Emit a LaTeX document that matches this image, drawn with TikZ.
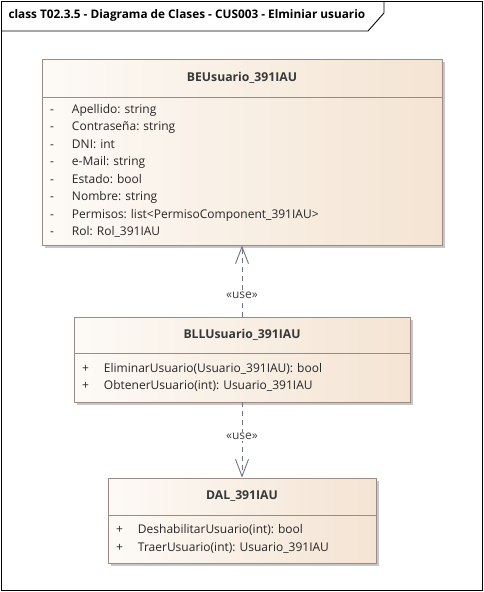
\documentclass[tikz,border=0pt]{standalone}
\usepackage{fontspec}
\setmainfont{Open Sans}
\usetikzlibrary{arrows.meta,shadows}
\definecolor{clsA}{HTML}{FDFAF6}
\definecolor{clsB}{HTML}{F4E4D3}
\definecolor{clsline}{HTML}{9C8A86}
\definecolor{depc}{HTML}{6F7486}
\newcommand\pv[1]{\makebox[22pt][l]{-}#1}
\newcommand\pb[1]{\makebox[22pt][l]{+}#1}
\frenchspacing

\begin{document}
\begin{tikzpicture}[x=1pt,y=-1pt,font=\fontsize{12}{17.5}\selectfont,
 cl/.style={draw=clsline,line width=0.9pt,left color=clsA,right color=clsB,inner sep=0pt,
  drop shadow={shadow xshift=3pt,shadow yshift=-3pt,fill=black!22,opacity=1}},
 hd/.style={cl,font=\fontsize{12.2}{14}\selectfont\bfseries,text=black!78},
 bd/.style={cl,align=left,inner xsep=8pt,text=black!85},
 ar/.style={dash pattern=on 5pt off 4pt,draw=depc,line width=0.9pt,
  -{Straight Barb[length=17pt,width=13pt,line width=0.9pt]}},
 lb/.style={fill=white,inner sep=1pt,text=black!75}]
\useasboundingbox (0,0) rectangle (484,592);
\draw[line width=0.9pt] (1,1) rectangle (482,590);
\draw[line width=0.9pt] (1,31) -- (368,31) -- (384,13) -- (384,1);
\node[anchor=west,font=\fontsize{11.8}{14}\selectfont\bfseries] (ttl) at (5,15)
 {class T02.3.5 - Diagrama de Clases - CUS003 - Elminiar usuario};

\node[hd,minimum width=400pt,minimum height=38pt] (beh) at (242,78) {BEUsuario\_391IAU};
\node[bd,text width=384pt,minimum height=148pt] (beb) at (242,171)
 {\pv{Apellido: string}\\ \pv{Contraseña: string}\\ \pv{DNI: int}\\ \pv{e-Mail: string}\\
  \pv{Estado: bool}\\ \pv{Nombre: string}\\ \pv{Permisos: list<PermisoComponent\_391IAU>}\\
  \pv{Rol: Rol\_391IAU}};

\node[hd,minimum width=336pt,minimum height=36pt] (bllh) at (242,335) {BLLUsuario\_391IAU};
\node[bd,text width=320pt,minimum height=49pt] (bllb) at (242,377.5)
 {\pb{EliminarUsuario(Usuario\_391IAU): bool}\\ \pb{ObtenerUsuario(int): Usuario\_391IAU}};

\node[hd,minimum width=268pt,minimum height=37pt] (dalh) at (242,496.5) {DAL\_391IAU};
\node[bd,text width=252pt,minimum height=48pt] (dalb) at (242,539)
 {\pb{DeshabilitarUsuario(int): bool}\\ \pb{TraerUsuario(int): Usuario\_391IAU}};

\draw[ar] (bllh.north) -- (beb.south) node[lb,pos=0.3]{«use»};
\draw[ar] (bllb.south) -- (dalh.north) node[lb,pos=0.45]{«use»};
\end{tikzpicture}
\end{document}
